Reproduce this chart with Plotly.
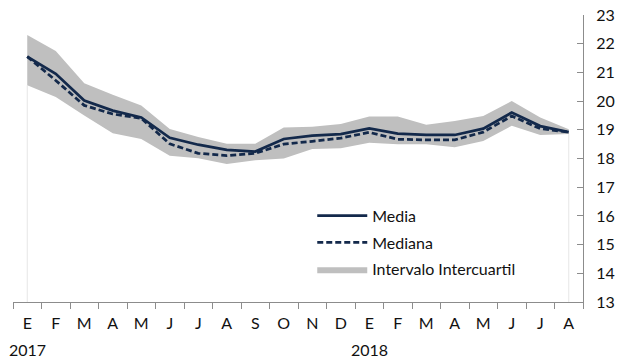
import plotly.graph_objects as go

cat_keys = ["Ene 2017", "Feb 2017", "Mar 2017", "Abr 2017", "May 2017", "Jun 2017",
            "Jul 2017", "Ago 2017", "Sep 2017", "Oct 2017", "Nov 2017", "Dic 2017",
            "Ene 2018", "Feb 2018", "Mar 2018", "Abr 2018", "May 2018", "Jun 2018",
            "Jul 2018", "Ago 2018"]
tick_letters = ["E", "F", "M", "A", "M", "J", "J", "A", "S", "O", "N", "D",
                "E", "F", "M", "A", "M", "J", "J", "A"]
year_labels = {"Ene 2017": "2017", "Ene 2018": "2018"}

media = [21.55, 20.95, 20.02, 19.67, 19.43, 18.72, 18.48, 18.30, 18.24, 18.68,
         18.80, 18.85, 19.05, 18.87, 18.82, 18.82, 19.04, 19.60, 19.13, 18.92]
mediana = [21.55, 20.72, 19.85, 19.55, 19.40, 18.51, 18.18, 18.10, 18.18, 18.50,
           18.60, 18.71, 18.91, 18.67, 18.65, 18.65, 18.92, 19.48, 19.04, 18.92]
q_upper = [22.30, 21.75, 20.62, 20.22, 19.85, 19.03, 18.75, 18.51, 18.51, 19.08,
           19.11, 19.20, 19.46, 19.46, 19.18, 19.31, 19.48, 20.00, 19.43, 19.02]
q_lower = [20.55, 20.14, 19.50, 18.88, 18.68, 18.10, 18.01, 17.81, 17.94, 18.00,
           18.33, 18.36, 18.55, 18.50, 18.50, 18.39, 18.61, 19.14, 18.82, 18.85]

y_min, y_max = 13, 23
NAVY = "#13294b"
BAND = "#bfbfbf"
AXIS = "#8c8c8c"
FONT = "Lato"

fig = go.Figure()

# faint edge lines of the area series
for i in (0, len(cat_keys) - 1):
    fig.add_trace(go.Scatter(x=[cat_keys[i], cat_keys[i]], y=[y_min, q_lower[i]],
                             mode="lines", line=dict(color="#e6e6e6", width=1),
                             showlegend=False, hoverinfo="skip"))

fig.add_trace(go.Scatter(x=cat_keys, y=q_lower, mode="lines", line=dict(width=0),
                         showlegend=False, hoverinfo="skip", legendgroup="c"))
fig.add_trace(go.Scatter(x=cat_keys, y=q_upper, mode="lines", line=dict(width=0),
                         fill="tonexty", fillcolor=BAND, name="Intervalo Intercuartil",
                         legendgroup="c", legendrank=3))
fig.add_trace(go.Scatter(x=cat_keys, y=media, mode="lines", name="Media",
                         line=dict(color=NAVY, width=2.75), legendgroup="a", legendrank=1))
fig.add_trace(go.Scatter(x=cat_keys, y=mediana, mode="lines", name="Mediana",
                         line=dict(color=NAVY, width=2.75, dash="6px,3px"),
                         legendgroup="b", legendrank=2))

for k, lab in year_labels.items():
    fig.add_annotation(x=k, xref="x", y=-0.167, yref="paper", text=lab,
                       showarrow=False, xanchor="center", yanchor="middle",
                       font=dict(family=FONT, size=16, color="#111"))

fig.update_layout(
    width=623, height=360,
    margin=dict(l=13, r=40, t=15, b=58, autoexpand=False),
    paper_bgcolor="white", plot_bgcolor="white",
    font=dict(family=FONT, size=16, color="#111"),
    legend=dict(x=0.525, y=0.36, xanchor="left", yanchor="top",
                bgcolor="rgba(0,0,0,0)", traceorder="grouped", tracegroupgap=3,
                itemwidth=50,
                font=dict(family=FONT, size=16, color="#111")),
    xaxis=dict(type="category", categoryorder="array", categoryarray=cat_keys,
               tickmode="array", tickvals=cat_keys, ticktext=tick_letters,
               tickson="boundaries", ticks="outside", ticklen=6, tickcolor=AXIS,
               showline=True, linecolor=AXIS, linewidth=1, showgrid=False,
               zeroline=False, range=[-0.5, len(cat_keys) - 0.5],
               ticklabelstandoff=7, automargin=False),
    yaxis=dict(side="right", range=[y_min, y_max], dtick=1, tick0=13,
               ticks="inside", ticklen=6, tickcolor=AXIS, showline=True,
               linecolor=AXIS, linewidth=1, showgrid=False, zeroline=False,
               ticklabelstandoff=9, automargin=False),
)

fig.write_html("out.html", config={"displayModeBar": False},
               post_script="document.body.style.margin='0';")
